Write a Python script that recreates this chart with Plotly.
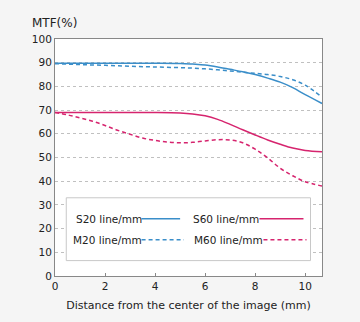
import plotly.graph_objects as go

x_s = [0, 1, 2, 3, 4, 5, 5.5, 6, 6.5, 7, 7.5, 8, 8.5, 9, 9.5, 10, 10.67]
s20 = [89.8, 89.8, 89.8, 89.8, 89.8, 89.7, 89.4, 89.0, 88.2, 87.2, 86.2, 85.0, 83.5, 81.8, 79.5, 76.5, 72.8]
m20 = [89.6, 89.2, 88.9, 88.5, 88.2, 87.9, 87.7, 87.4, 87.0, 86.5, 86.0, 85.5, 85.0, 84.2, 82.8, 80.5, 75.5]
s60 = [69.0, 69.0, 69.0, 69.0, 69.0, 68.8, 68.4, 67.6, 66.1, 64.0, 61.7, 59.5, 57.4, 55.6, 54.0, 53.0, 52.4]
x_m60 = [0, 0.5, 1, 1.5, 2, 2.5, 3, 3.5, 4, 4.5, 5, 5.5, 6, 6.5, 7, 7.5, 8, 8.5, 9, 9.5, 10, 10.67]
m60 = [69.0, 68.0, 66.7, 65.3, 63.5, 61.5, 59.8, 58.2, 57.2, 56.5, 56.2, 56.4, 57.0, 57.5, 57.4, 56.2, 53.5, 49.8, 45.5, 42.3, 39.8, 38.0]

x_ticks = [0, 2, 4, 6, 8, 10]
y_ticks = [0, 10, 20, 30, 40, 50, 60, 70, 80, 90, 100]

BLUE = "#3a8ec9"
PINK = "#d6246e"
FONT = "DejaVu Sans"

fig = go.Figure()
fig.add_trace(go.Scatter(x=x_s, y=s20, mode="lines", line=dict(color=BLUE, width=1.5, shape="spline")))
fig.add_trace(go.Scatter(x=x_s, y=m20, mode="lines", line=dict(color=BLUE, width=1.5, dash="4px,3px", shape="spline")))
fig.add_trace(go.Scatter(x=x_s, y=s60, mode="lines", line=dict(color=PINK, width=1.5, shape="spline")))
fig.add_trace(go.Scatter(x=x_m60, y=m60, mode="lines", line=dict(color=PINK, width=1.5, dash="4px,3px", shape="spline")))

# legend box (manual)
fig.add_shape(type="rect", xref="x", yref="y", x0=0.45, x1=10.21, y0=6.5, y1=33.0,
              line=dict(color="#c8c8c8", width=1), fillcolor="white", layer="above")
legend_items = [
    ("S20 line/mm", 3.46, 5.0, 24.2, BLUE, "solid"),
    ("M20 line/mm", 3.46, 5.15, 15.3, BLUE, "4px,3px"),
    ("S60 line/mm", 8.17, 9.93, 24.2, PINK, "solid"),
    ("M60 line/mm", 8.33, 10.05, 15.3, PINK, "4px,3px"),
]
for label, lx0, lx1, ly, col, dash in legend_items:
    fig.add_shape(type="line", xref="x", yref="y", x0=lx0, x1=lx1, y0=ly, y1=ly,
                  line=dict(color=col, width=1.5, dash=dash), layer="above")
    fig.add_annotation(x=lx0, y=ly, xref="x", yref="y", text=label, showarrow=False,
                       xanchor="right", yanchor="middle", xshift=2,
                       font=dict(family=FONT, size=10.5, color="#222"))

fig.add_annotation(xref="paper", yref="paper", x=-0.0925, y=1.069, text="MTF(%)", showarrow=False,
                   xanchor="left", yanchor="middle", font=dict(family=FONT, size=12, color="#222"))

fig.update_layout(
    width=360, height=322,
    margin=dict(l=54.7, r=38.3, t=38.5, b=45.5),
    paper_bgcolor="#f5f5f5", plot_bgcolor="white",
    showlegend=False,
    font=dict(family=FONT, size=10.5, color="#222"),
)
fig.update_xaxes(range=[0, 10.67], tickvals=x_ticks, ticks="inside", ticklen=3, tickcolor="#888",
                 showgrid=False, zeroline=False, showline=True, linecolor="#888", linewidth=1, mirror=True,
                 title=dict(text="Distance from the center of the image (mm)", font=dict(size=11), standoff=10))
fig.update_yaxes(range=[0, 100], tickvals=y_ticks, ticks="", showgrid=True, gridcolor="#c0c0c0",
                 griddash="dot", gridwidth=1, zeroline=False, showline=True, linecolor="#888", linewidth=1, mirror=True)

fig.write_html("out.html")
